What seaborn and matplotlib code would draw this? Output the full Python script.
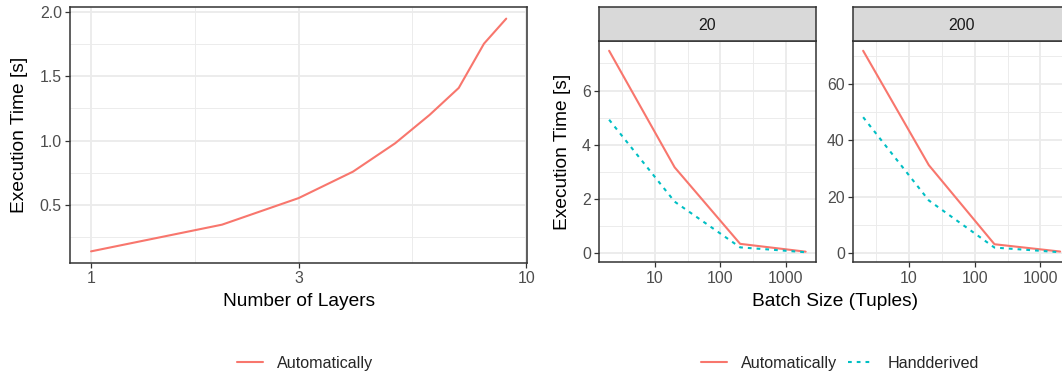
import numpy as np
import pandas as pd
import matplotlib
matplotlib.use("Agg")
import matplotlib.pyplot as plt
from matplotlib.lines import Line2D
from matplotlib.ticker import FixedLocator, NullFormatter
import seaborn as sns

# ---------------- data ----------------
layers = [1, 2, 3, 4, 5, 6, 7, 8, 9]
layer_time_auto = [0.142, 0.349, 0.555, 0.760, 0.980, 1.20, 1.409, 1.752, 1.946]

batch_sizes = [2, 20, 200, 2000]
facet_labels = ["20", "200"]
time20_auto = [7.47, 3.16, 0.33, 0.04]
time20_hand = [4.92, 1.89, 0.20, 0.02]
time200_auto = [72.0, 31.2, 2.97, 0.36]
time200_hand = [48.3, 18.6, 1.78, 0.12]

methods = ["Automatically", "Handderived"]
colors = {"Automatically": "#F8766D", "Handderived": "#00BFC4"}

# ---------------- style ----------------
sns.set_theme(style="white")
plt.rcParams["font.family"] = ["Liberation Sans", "DejaVu Sans"]

W, H = 1062, 378
DPI = 100
fig = plt.figure(figsize=(W / DPI, H / DPI), dpi=DPI)
fig.patch.set_facecolor("white")


def px_axes(x0, y0, x1, y1):
    return fig.add_axes([x0 / W, 1 - y1 / H, (x1 - x0) / W, (y1 - y0) / H])


TICK_FS = 11.4
TITLE_FS = 13.8
GRID_MAJ = "#EBEBEB"
DASH = (1.8, 2.4)


def style_ax(ax, xmaj, ymaj, xmin, ymin):
    ax.set_facecolor("white")
    ax.set_xscale("log")
    ax.xaxis.set_major_locator(FixedLocator(xmaj))
    ax.xaxis.set_minor_locator(FixedLocator(xmin))
    ax.yaxis.set_major_locator(FixedLocator(ymaj))
    ax.yaxis.set_minor_locator(FixedLocator(ymin))
    ax.xaxis.set_minor_formatter(NullFormatter())
    ax.grid(True, which="major", color=GRID_MAJ, linewidth=1.3)
    ax.grid(True, which="minor", color=GRID_MAJ, linewidth=0.65)
    ax.set_axisbelow(True)
    for s in ax.spines.values():
        s.set_color("#333333")
        s.set_linewidth(1.1)
        s.set_visible(True)
    ax.tick_params(which="major", length=3.6, width=0.9, color="#333333",
                   labelsize=TICK_FS, labelcolor="#4D4D4D", pad=2.5,
                   bottom=True, left=True)
    ax.tick_params(which="minor", length=0, bottom=False, left=False)
    ax.set_xlabel("")
    ax.set_ylabel("")


# ---------------- left panel ----------------
axL = px_axes(70.3, 7, 527, 263)
df_layers = pd.DataFrame({"layers": layers, "time": layer_time_auto,
                          "method": "Automatically"})
sns.lineplot(data=df_layers, x="layers", y="time", hue="method",
             palette=colors, ax=axL, legend=False, linewidth=1.5,
             estimator=None, sort=True)
style_ax(axL, [1, 3, 10], [0.5, 1.0, 1.5, 2.0],
         [np.sqrt(3), np.sqrt(30)], [0.25, 0.75, 1.25, 1.75])
lx = np.log10(layers)
pad = 0.05 * (lx.max() - lx.min())
axL.set_xlim(10 ** (lx.min() - pad), 10 ** (lx.max() + pad))
yr = max(layer_time_auto) - min(layer_time_auto)
axL.set_ylim(min(layer_time_auto) - 0.05 * yr, max(layer_time_auto) + 0.05 * yr)
axL.set_xticklabels(["1", "3", "10"])
axL.set_yticklabels(["0.5", "1.0", "1.5", "2.0"])

fig.text(298.6 / W, 1 - 301.7 / H, "Number of Layers", ha="center", va="center",
         fontsize=TITLE_FS, color="black")
fig.text(20 / W, 1 - 135 / H, "Execution Time [s]", ha="center", va="center",
         rotation=90, fontsize=TITLE_FS, color="black")

# ---------------- right facets ----------------
facet_data = {
    "20": (time20_auto, time20_hand, [0, 2, 4, 6], [1, 3, 5, 7]),
    "200": (time200_auto, time200_hand, [0, 20, 40, 60], [10, 30, 50, 70]),
}
facet_x = [(599.3, 815.5), (853.3, 1070.0)]
bx = np.log10(batch_sizes)
bpad = 0.05 * (bx.max() - bx.min())

for (x0, x1), lab in zip(facet_x, facet_labels):
    auto, hand, ymaj, ymin = facet_data[lab]
    ax = px_axes(x0, 40.7, x1, 262.3)
    df = pd.DataFrame({
        "batch": batch_sizes * 2,
        "time": list(auto) + list(hand),
        "method": [methods[0]] * 4 + [methods[1]] * 4,
    })
    sns.lineplot(data=df, x="batch", y="time", hue="method", style="method",
                 palette=colors, dashes={"Automatically": "", "Handderived": DASH},
                 ax=ax, legend=False, linewidth=1.5, estimator=None)
    style_ax(ax, [10, 100, 1000], ymaj,
             [10 ** 0.5, 10 ** 1.5, 10 ** 2.5], ymin)
    ax.set_xlim(10 ** (bx.min() - bpad), 10 ** (bx.max() + bpad))
    allv = list(auto) + list(hand)
    r = max(allv) - min(allv)
    ax.set_ylim(min(allv) - 0.05 * r, max(allv) + 0.05 * r)
    ax.set_xticklabels(["10", "100", "1000"])
    ax.set_yticklabels([str(v) for v in ymaj])

    # strip
    sax = px_axes(x0, 7.3, x1, 40.7)
    sax.set_facecolor("#D9D9D9")
    sax.set_xticks([])
    sax.set_yticks([])
    for s in sax.spines.values():
        s.set_color("#333333")
        s.set_linewidth(1.1)
        s.set_visible(True)
    sax.text(0.5, 0.5, lab, transform=sax.transAxes, ha="center",
             va="center_baseline", fontsize=TICK_FS, color="#1A1A1A")

fig.text(834.6 / W, 1 - 301.7 / H, "Batch Size (Tuples)", ha="center", va="center",
         fontsize=TITLE_FS, color="black")
fig.text(562.5 / W, 1 - 151.5 / H, "Execution Time [s]", ha="center", va="center",
         rotation=90, fontsize=TITLE_FS, color="black")

# ---------------- legends ----------------
h_auto = Line2D([], [], color=colors["Automatically"], linewidth=1.5)
h_hand = Line2D([], [], color=colors["Handderived"], linewidth=1.5,
                linestyle=(0, DASH))
leg_kw = dict(loc="center", frameon=False, fontsize=11.6, handlelength=1.6,
              handletextpad=0.85, columnspacing=0.7, borderaxespad=0, borderpad=0)
fig.legend(handles=[h_auto], labels=["Automatically"], ncol=1,
           bbox_to_anchor=(305.3 / W, 1 - 363.3 / H), **leg_kw)
fig.legend(handles=[h_auto, h_hand], labels=methods, ncol=2,
           bbox_to_anchor=(840.3 / W, 1 - 363.3 / H), **leg_kw)

fig.savefig("out.png", dpi=DPI, facecolor="white")
